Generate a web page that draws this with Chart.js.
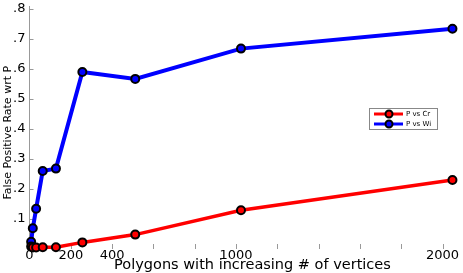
<!DOCTYPE html>
<html>
<head>
<meta charset="utf-8">
<script src="https://cdn.jsdelivr.net/npm/chart.js@4"></script>
<style>
html,body{margin:0;padding:0;background:#fff;}
canvas{display:block;}
</style>
</head>
<body>
<canvas id="c" width="463" height="273"></canvas>
<script>
const xValues = [8, 16, 32, 64, 128, 256, 512, 1024, 2048];
const crValues = [0.008, 0.005, 0.005, 0.006, 0.006, 0.022, 0.048, 0.129, 0.230];
const wiValues = [0.024, 0.069, 0.134, 0.260, 0.268, 0.590, 0.567, 0.668, 0.734];
const seriesNames = ['P vs Cr', 'P vs Wi'];
const xTickValues = [0, 200, 400, 600, 800, 1000, 1200, 1400, 1600, 1800, 2000];
const xTickLabels = [0, 200, 400, 1000, 2000];
const yTickValues = [0.1, 0.2, 0.3, 0.4, 0.5, 0.6, 0.7, 0.8];
const xTitle = '    Polygons with increasing # of vertices';
const yTitle = 'False Positive Rate wrt P   ';

const FONT = 'DejaVu Sans';

const innerTicks = {
  id: 'innerTicks',
  beforeDatasetsDraw(chart) {
    const ctx = chart.ctx;
    const xs = chart.scales.x, ys = chart.scales.y;
    ctx.save();
    ctx.strokeStyle = '#999';
    ctx.lineWidth = 1;
    ctx.beginPath();
    yTickValues.forEach(v => {
      const y = Math.round(ys.getPixelForValue(v)) + 0.5;
      ctx.moveTo(xs.left, y);
      ctx.lineTo(xs.left + 4, y);
    });
    xTickValues.forEach(v => {
      if (v === 0) return;
      const x = Math.round(xs.getPixelForValue(v)) + 0.5;
      ctx.moveTo(x, ys.bottom);
      ctx.lineTo(x, ys.bottom - 5);
    });
    ctx.stroke();
    ctx.restore();
  }
};

const boxLegend = {
  id: 'boxLegend',
  afterDraw(chart) {
    const ctx = chart.ctx;
    ctx.save();
    ctx.fillStyle = '#fff';
    ctx.fillRect(369.5, 108.5, 68, 21);
    ctx.strokeStyle = '#888';
    ctx.lineWidth = 1;
    ctx.strokeRect(369.5, 108.5, 68, 21);
    chart.data.datasets.forEach((ds, i) => {
      const y = 114 + i * 10;
      ctx.strokeStyle = ds.borderColor;
      ctx.lineWidth = 3;
      ctx.beginPath();
      ctx.moveTo(374, y);
      ctx.lineTo(403, y);
      ctx.stroke();
      ctx.beginPath();
      ctx.arc(389, y, 3.5, 0, Math.PI * 2);
      ctx.fillStyle = ds.borderColor;
      ctx.fill();
      ctx.strokeStyle = '#000';
      ctx.lineWidth = 2;
      ctx.stroke();
      ctx.fillStyle = '#000';
      ctx.font = '7px "' + FONT + '"';
      ctx.textBaseline = 'middle';
      ctx.textAlign = 'left';
      ctx.fillText(ds.label, 406, y);
    });
    ctx.restore();
  }
};

new Chart(document.getElementById('c'), {
  type: 'line',
  data: {
    datasets: [
      {
        label: seriesNames[0],
        data: xValues.map((x, i) => ({x: x, y: crValues[i]})),
        borderColor: '#ff0000',
        backgroundColor: '#ff0000',
        pointBackgroundColor: '#ff0000',
        pointBorderColor: '#000',
        borderWidth: 3.5,
        pointRadius: 4,
        pointBorderWidth: 2,
        clip: false,
        tension: 0
      },
      {
        label: seriesNames[1],
        data: xValues.map((x, i) => ({x: x, y: wiValues[i]})),
        borderColor: '#0000ff',
        backgroundColor: '#0000ff',
        pointBackgroundColor: '#0000ff',
        pointBorderColor: '#000',
        borderWidth: 4,
        pointRadius: 4,
        pointBorderWidth: 2,
        clip: false,
        tension: 0
      }
    ]
  },
  options: {
    responsive: false,
    animation: false,
    devicePixelRatio: 1,
    layout: {padding: {left: 0, right: 2, top: 0, bottom: 0}},
    plugins: {legend: {display: false}, tooltip: {enabled: false}},
    scales: {
      x: {
        type: 'linear',
        min: 0,
        max: 2070,
        afterBuildTicks: s => { s.ticks = xTickValues.map(v => ({value: v})); },
        afterFit: s => { s.height = 24; s.paddingLeft = 0; s.paddingRight = 0; },
        grid: {display: false, drawTicks: false, tickLength: 0},
        border: {display: false},
        ticks: {
          autoSkip: false,
          maxRotation: 0,
          padding: -1,
          color: '#000',
          font: {family: FONT, size: 13},
          callback: v => xTickLabels.includes(v) ? String(v) : ''
        },
        title: {
          display: true,
          text: xTitle,
          color: '#000',
          font: {family: FONT, size: 14.5},
          padding: {top: 0, bottom: -1}
        }
      },
      y: {
        type: 'linear',
        min: 0,
        max: 0.81,
        afterBuildTicks: s => { s.ticks = yTickValues.map(v => ({value: v})); },
        afterFit: s => { s.width = 29.5; s.paddingTop = 0; s.paddingBottom = 0; },
        grid: {display: false, drawTicks: false, tickLength: 0},
        border: {display: true, color: '#999', width: 1},
        ticks: {
          padding: 4,
          color: '#000',
          font: {family: FONT, size: 13},
          callback: v => v.toFixed(1).replace(/^0/, '')
        },
        title: {
          display: true,
          text: yTitle,
          color: '#000',
          font: {family: FONT, size: 11},
          padding: {top: 2, bottom: 0}
        }
      }
    }
  },
  plugins: [innerTicks, boxLegend]
});
</script>
</body>
</html>
